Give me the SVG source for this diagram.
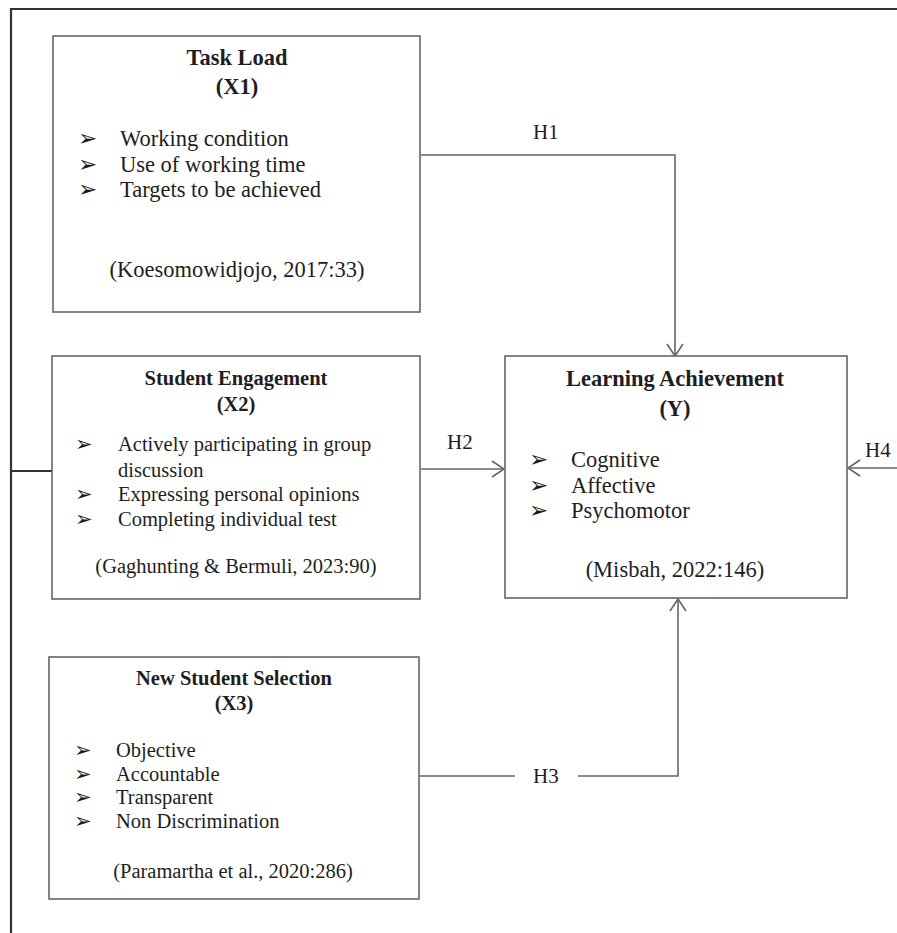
<svg xmlns="http://www.w3.org/2000/svg" width="897" height="933" viewBox="0 0 897 933">
<style>
text{font-family:"Liberation Serif","Times New Roman",serif;fill:#1e1e1e}
.tl{font-weight:bold;text-anchor:middle}
.big{font-size:22.5px}
.sm{font-size:20.5px}
.mid{text-anchor:middle}
.bul{font-family:"DejaVu Sans",sans-serif;fill:#1a1a1a}
.b1{font-size:23px}
.b2{font-size:21px}
.box{fill:#fff;stroke:#666;stroke-width:1.6}
.con{fill:none;stroke:#666;stroke-width:1.6}
.frame{fill:none;stroke:#333;stroke-width:2.2}
.lbl{font-size:21px}
</style>
<defs>
<marker id="arr" viewBox="-14 -10 16 20" refX="0" refY="0" markerWidth="16" markerHeight="20" markerUnits="userSpaceOnUse" orient="auto">
<path d="M-12,-8 L0,0 L-12,8" fill="none" stroke="#666" stroke-width="1.6"/>
</marker>
</defs>
<rect width="897" height="933" fill="#fff"/>
<g id="connectors">
<path class="frame" d="M11,933 V9 H897"/>
<path class="con" d="M11,471 H52" style="stroke:#333;stroke-width:2"/>
<path class="con" d="M421,155 H675 V356" marker-end="url(#arr)"/>
<path class="con" d="M421,469 H504" marker-end="url(#arr)"/>
<path class="con" d="M419,776 H515"/>
<path class="con" d="M578,776 H678 V599" marker-end="url(#arr)"/>
<path class="con" d="M897,468 H848" marker-end="url(#arr)"/>
<text class="lbl" x="533" y="139">H1</text>
<text class="lbl" x="447" y="449">H2</text>
<text class="lbl" x="533" y="783">H3</text>
<text class="lbl" x="865" y="457">H4</text>
</g>
<g id="x1">
<rect class="box" x="53" y="36" width="367" height="276"/>
<text class="tl big" x="237" y="65">Task Load</text>
<text class="tl big" x="237" y="94">(X1)</text>
<text class="bul b1" x="78" y="146">➢</text>
<text class="bul b1" x="78" y="172">➢</text>
<text class="bul b1" x="78" y="197">➢</text>
<text class="big" x="120" y="146">Working condition</text>
<text class="big" x="120" y="172">Use of working time</text>
<text class="big" x="120" y="197">Targets to be achieved</text>
<text class="big mid" x="237" y="277">(Koesomowidjojo, 2017:33)</text>
</g>
<g id="x2">
<rect class="box" x="52" y="356" width="368" height="243"/>
<text class="tl sm" x="236" y="385">Student Engagement</text>
<text class="tl sm" x="236" y="411">(X2)</text>
<text class="bul b2" x="75" y="451">➢</text>
<text class="bul b2" x="75" y="501">➢</text>
<text class="bul b2" x="75" y="526">➢</text>
<text class="sm" x="118" y="451">Actively participating in group</text>
<text class="sm" x="118" y="477">discussion</text>
<text class="sm" x="118" y="501">Expressing personal opinions</text>
<text class="sm" x="118" y="526">Completing individual test</text>
<text class="sm mid" x="236" y="573">(Gaghunting &amp; Bermuli, 2023:90)</text>
</g>
<g id="y">
<rect class="box" x="505" y="356" width="342" height="242"/>
<text class="tl big" x="675" y="386">Learning Achievement</text>
<text class="tl big" x="675" y="416">(Y)</text>
<text class="bul b1" x="529" y="467">➢</text>
<text class="bul b1" x="529" y="493">➢</text>
<text class="bul b1" x="529" y="518">➢</text>
<text class="big" x="571" y="467">Cognitive</text>
<text class="big" x="571" y="493">Affective</text>
<text class="big" x="571" y="518">Psychomotor</text>
<text class="big mid" x="675" y="577">(Misbah, 2022:146)</text>
</g>
<g id="x3">
<rect class="box" x="49" y="657" width="370" height="242"/>
<text class="tl sm" x="234" y="685">New Student Selection</text>
<text class="tl sm" x="234" y="710">(X3)</text>
<text class="bul b2" x="74" y="757">➢</text>
<text class="bul b2" x="74" y="781">➢</text>
<text class="bul b2" x="74" y="804">➢</text>
<text class="bul b2" x="74" y="828">➢</text>
<text class="sm" x="116" y="757">Objective</text>
<text class="sm" x="116" y="781">Accountable</text>
<text class="sm" x="116" y="804">Transparent</text>
<text class="sm" x="116" y="828">Non Discrimination</text>
<text class="sm mid" x="233" y="878">(Paramartha et al., 2020:286)</text>
</g>
</svg>
